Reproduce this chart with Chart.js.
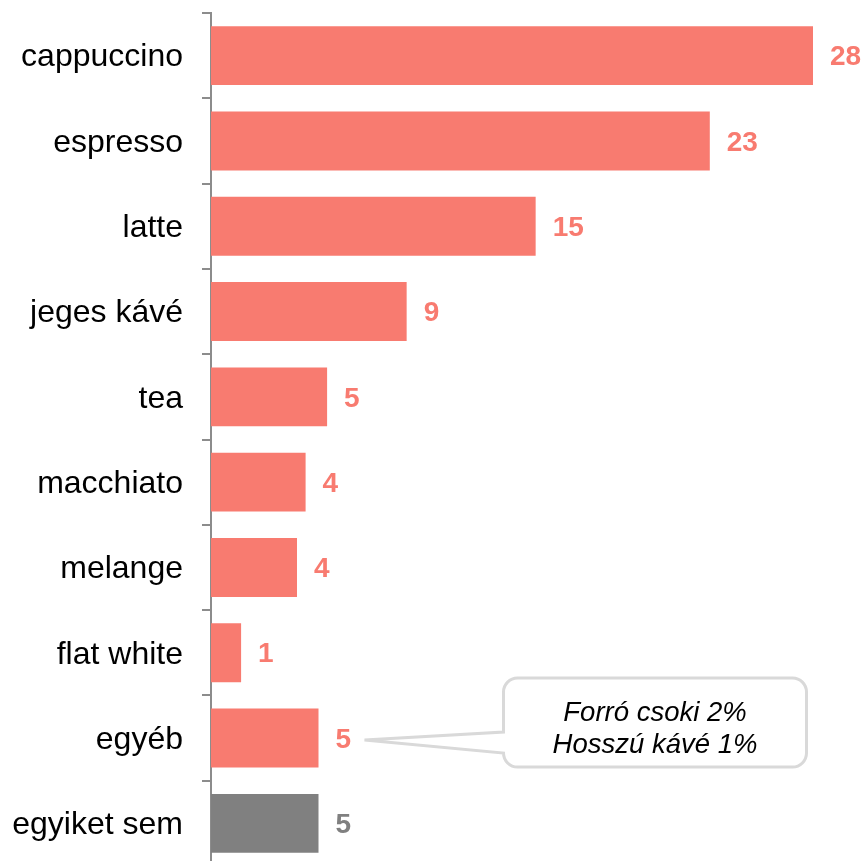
<!DOCTYPE html>
<html>
<head>
<meta charset="utf-8">
<script src="https://cdn.jsdelivr.net/npm/chart.js@4/dist/chart.umd.min.js"></script>
<style>
  html, body { margin: 0; padding: 0; background: #fff; overflow: hidden; }
  #wrap { width: 865px; height: 866px; position: relative; }
</style>
</head>
<body>
<div id="wrap"><canvas id="myChart"></canvas></div>
<script>
const categories = ["cappuccino", "espresso", "latte", "jeges kávé", "tea", "macchiato", "melange", "flat white", "egyéb", "egyiket sem"];
const values = [28, 23.2, 15.1, 9.1, 5.4, 4.4, 4.0, 1.4, 5.0, 5.0];
const valueLabels = ["28", "23", "15", "9", "5", "4", "4", "1", "5", "5"];
const barColors = ["#F87B70", "#F87B70", "#F87B70", "#F87B70", "#F87B70", "#F87B70", "#F87B70", "#F87B70", "#F87B70", "#808080"];
const calloutLines = ["Forró csoki 2%", "Hosszú kávé 1%"];
const calloutIndex = 8;

const canvasChart = document.getElementById("myChart");

// value labels at the end of each bar
const valueLabelPlugin = {
  id: "valueLabels",
  afterDatasetsDraw(chart) {
    const ctx = chart.ctx;
    const meta = chart.getDatasetMeta(0);
    ctx.save();
    ctx.font = "bold 28px 'Liberation Sans', Arial, sans-serif";
    ctx.textBaseline = "middle";
    ctx.textAlign = "left";
    meta.data.forEach((bar, i) => {
      ctx.fillStyle = barColors[i];
      ctx.fillText(valueLabels[i], bar.x + 17, bar.y + 2);
    });
    ctx.restore();
  }
};

// speech bubble next to "egyéb"
const calloutPlugin = {
  id: "callout",
  afterDatasetsDraw(chart) {
    const ctx = chart.ctx;
    const bar = chart.getDatasetMeta(0).data[calloutIndex];
    const tipX = bar.x + 46;
    const tipY = bar.y + 2;
    const left = tipX + 139, top = bar.y - 60, w = 303, h = 89, r = 14;
    ctx.save();
    ctx.strokeStyle = "#D9D9D9";
    ctx.lineWidth = 3;
    ctx.fillStyle = "#fff";
    ctx.beginPath();
    ctx.moveTo(left + r, top);
    ctx.lineTo(left + w - r, top);
    ctx.arcTo(left + w, top, left + w, top + r, r);
    ctx.lineTo(left + w, top + h - r);
    ctx.arcTo(left + w, top + h, left + w - r, top + h, r);
    ctx.lineTo(left + r, top + h);
    ctx.arcTo(left, top + h, left, top + h - r, r);
    ctx.lineTo(left, tipY + 13);
    ctx.lineTo(tipX, tipY);
    ctx.lineTo(left, tipY - 8);
    ctx.lineTo(left, top + r);
    ctx.arcTo(left, top, left + r, top, r);
    ctx.closePath();
    ctx.fill();
    ctx.stroke();
    ctx.fillStyle = "#000";
    ctx.font = "italic 27.5px 'Liberation Sans', Arial, sans-serif";
    ctx.textAlign = "center";
    ctx.textBaseline = "middle";
    calloutLines.forEach((line, i) => {
      ctx.fillText(line, left + w / 2, top + 35 + i * 32);
    });
    ctx.restore();
  }
};

const myChart = new Chart(canvasChart, {
  type: "bar",
  data: {
    labels: categories,
    datasets: [
      {
        data: values,
        backgroundColor: barColors,
        borderWidth: 0,
        categoryPercentage: 1,
        barPercentage: 0.69,
      },
    ],
  },
  options: {
    indexAxis: "y",
    responsive: true,
    maintainAspectRatio: false,
    animation: false,
    layout: { padding: { top: 13, right: 52, bottom: 0, left: 0 } },
    plugins: {
      legend: { display: false },
      tooltip: { enabled: false },
    },
    scales: {
      x: {
        display: false,
        min: 0,
        max: 28,
      },
      y: {
        grid: {
          offset: true,
          drawOnChartArea: false,
          drawTicks: true,
          tickLength: 9,
          color: "#8C8C8C",
          lineWidth: 2,
        },
        border: { color: "#8C8C8C", width: 2 },
        ticks: {
          color: "#000",
          padding: 19,
          labelOffset: 2,
          font: { family: "'Liberation Sans', Arial, sans-serif", size: 32 },
        },
        afterFit(scale) {
          scale.width = 211;
          scale.paddingTop = 0;
          scale.paddingBottom = 0;
        },
      },
    },
  },
  plugins: [valueLabelPlugin, calloutPlugin],
});
</script>
</body>
</html>
